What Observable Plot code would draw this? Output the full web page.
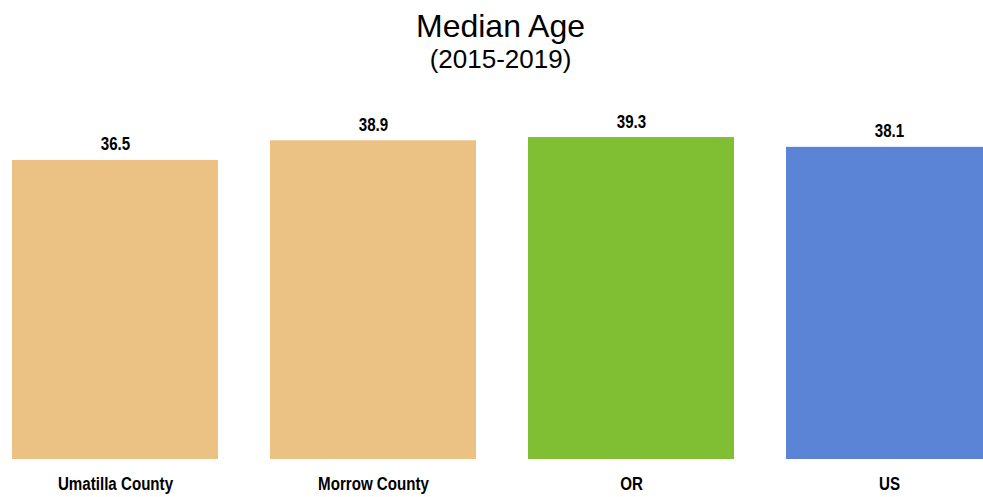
<!DOCTYPE html>
<html>
<head>
<meta charset="utf-8">
<script src="https://cdn.jsdelivr.net/npm/d3@7"></script>
<script src="https://cdn.jsdelivr.net/npm/@observablehq/plot@0.6"></script>
<style>
  html, body { margin: 0; padding: 0; background: #fff; overflow: hidden; }
  #wrap { position: relative; width: 983px; height: 497px; }
  .title { position: absolute; left: 0; width: 983px; text-align: center; color: #000;
           font-family: "Liberation Sans", Arial, sans-serif; font-weight: normal; }
  #t1 { top: 10px; font-size: 32px; line-height: 32px; padding-left: 18px; box-sizing: border-box; }
  #t2 { top: 46px; font-size: 26px; line-height: 26px; padding-left: 18px; box-sizing: border-box; }
  #chart { position: absolute; left: 0; top: 80px; }
</style>
</head>
<body>
<div id="wrap">
  <div class="title" id="t1">Median Age</div>
  <div class="title" id="t2">(2015-2019)</div>
  <div id="chart"></div>
</div>
<script>
const categories = ["Umatilla County", "Morrow County", "OR", "US"];
const values = [36.5, 38.9, 39.3, 38.1];
const colors = ["#ECC184", "#ECC184", "#80BF33", "#5B84D6"];

const data = categories.map((c, i) => ({category: c, value: values[i], color: colors[i]}));
const font = '"Liberation Sans", Arial, sans-serif';

const chart = Plot.plot({
  width: 983,
  height: 417,
  marginTop: 0,
  marginBottom: 0,
  marginLeft: 0,
  marginRight: 0,
  style: {overflow: "hidden", fontFamily: font, background: "#fff"},
  x: {domain: categories, range: [11, 993], paddingInner: 0.2, paddingOuter: 0, label: null, axis: null},
  y: {domain: [0, 40], range: [379, 379 - 8.193 * 40], axis: null},
  marks: [
    Plot.barY(data, {x: "category", y: "value", fill: "color"}),
    Plot.text(data, {x: "category", y: "value", text: d => d.value.toFixed(1),
      lineAnchor: "bottom", dy: -10, fontSize: 18, fontWeight: "bold", fill: "#000",
      fontFamily: font, className: "narrow"}),
    Plot.text(data, {x: "category", y: () => 0, text: "category",
      lineAnchor: "bottom", dy: 30, fontSize: 18, fontWeight: "bold", fill: "#000",
      fontFamily: font, className: "narrow"})
  ]
});
document.getElementById("chart").appendChild(chart);
// emulate a narrow (condensed) bold face
chart.querySelectorAll("g.narrow text").forEach(t => {
  const w = t.getComputedTextLength();
  t.setAttribute("textLength", (w * 0.84).toFixed(1));
  t.setAttribute("lengthAdjust", "spacingAndGlyphs");
});
</script>
</body>
</html>
